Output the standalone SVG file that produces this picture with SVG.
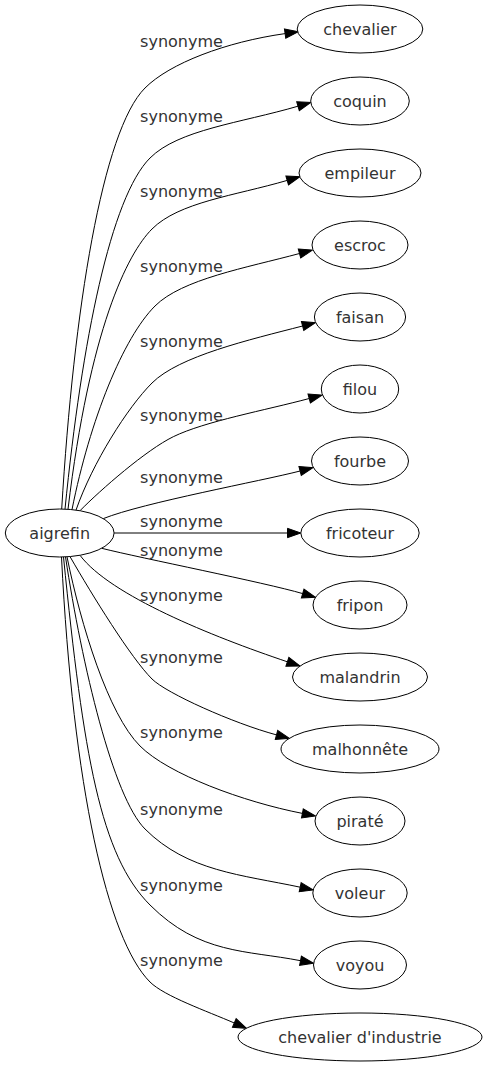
<svg xmlns="http://www.w3.org/2000/svg" width="487" height="1067" viewBox="0 0 487 1067">
<style>
.n ellipse{fill:#fff;stroke:#000;stroke-width:1}
.n text{font-family:"DejaVu Sans",sans-serif;font-size:16px;fill:#333;text-anchor:middle}
.e path{fill:none;stroke:#000;stroke-width:1;marker-end:url(#arr)}
.e text{font-family:"DejaVu Sans",sans-serif;font-size:16px;fill:#333;text-anchor:middle}
</style>
<defs>
<marker id="arr" markerWidth="15" markerHeight="11" refX="0" refY="4.67" orient="auto" markerUnits="userSpaceOnUse" overflow="visible">
<polygon points="0,0 13.3,4.67 0,9.34" fill="#000" stroke="#000" stroke-width="1"/>
</marker>
</defs>
<rect width="487" height="1067" fill="#fff"/>
<g id="edges" class="e">
<path d="M61.7,509 C73.7,309 102.6,130.4 145,88 C169.7,63.3 225.7,42 285.1,33.6"/>
<path d="M65,509.1 C82,339 111.1,196.9 150,158 C178.3,129.7 240.4,123 298,106.2"/>
<path d="M68,509.3 C89.6,329.3 127.3,253.7 152,229 C178.9,202.1 234.4,195.8 287.2,180.4"/>
<path d="M72,509.6 C90,419.6 123.2,337.8 155,306 C181.9,279.1 246.4,267.8 299.5,253.5"/>
<path d="M76,510.1 C92.5,462.9 127.3,407.7 152,383 C178.9,356.1 249.4,339.75 302.6,326"/>
<path d="M80,510.7 C101,489.4 146.3,449.9 173.3,436.7 C204.8,421.3 265.7,410.2 309.2,398.5"/>
<path d="M103.3,518.6 C143.3,502.6 261.4,481 300.1,471"/>
<path d="M114.1,533 L287.5,533"/>
<path d="M101.7,548.3 C141.7,558.3 264.3,582.4 302.7,593.6"/>
<path d="M80,555.3 C110,595.3 211.6,636.3 287.4,661.8"/>
<path d="M70,556.6 C92.5,595.6 130.8,657.8 152,679 C166.1,693.1 233,723.2 276.5,734.9"/>
<path d="M67,556.8 C81,625.4 108.2,714.2 140,746 C168.3,774.3 243.5,801.9 302.4,813.4"/>
<path d="M65.5,556.9 C82,665.8 113.2,797.2 145,829 C187.4,871.4 241.5,874.7 300.2,887.2"/>
<path d="M63.5,557 C83.5,756 100.5,855.5 150,905 C199.5,954.5 246.5,950.1 300.5,960.7"/>
<path d="M61.5,557 C73,787 107.6,939.6 150,982 C164.1,996.1 206.8,1011.1 234.3,1023"/>
<text x="181.5" y="47">synonyme</text>
<text x="181.5" y="121.5">synonyme</text>
<text x="181.5" y="196.5">synonyme</text>
<text x="181.5" y="271.5">synonyme</text>
<text x="181.5" y="347">synonyme</text>
<text x="181.5" y="421">synonyme</text>
<text x="181.5" y="483">synonyme</text>
<text x="181.5" y="527">synonyme</text>
<text x="181.5" y="556">synonyme</text>
<text x="181.5" y="601">synonyme</text>
<text x="181.5" y="663">synonyme</text>
<text x="181.5" y="738">synonyme</text>
<text x="181.5" y="814.5">synonyme</text>
<text x="181.5" y="890.5">synonyme</text>
<text x="181.5" y="965.5">synonyme</text>
</g>
<g id="n0" class="n"><ellipse cx="59.7" cy="533" rx="54.4" ry="24"/><text x="59.7" y="538.6">aigrefin</text></g>
<g id="n1" class="n"><ellipse cx="360" cy="29" rx="62.8" ry="24"/><text x="360" y="34.6">chevalier</text></g>
<g id="n2" class="n"><ellipse cx="360" cy="101" rx="49.3" ry="24"/><text x="360" y="106.6">coquin</text></g>
<g id="n3" class="n"><ellipse cx="360" cy="173" rx="61" ry="24"/><text x="360" y="178.6">empileur</text></g>
<g id="n4" class="n"><ellipse cx="360" cy="245" rx="48" ry="24"/><text x="360" y="250.6">escroc</text></g>
<g id="n5" class="n"><ellipse cx="360" cy="317" rx="45.6" ry="24"/><text x="360" y="322.6">faisan</text></g>
<g id="n6" class="n"><ellipse cx="360" cy="389" rx="38.7" ry="24"/><text x="360" y="394.6">filou</text></g>
<g id="n7" class="n"><ellipse cx="360" cy="461" rx="48.5" ry="24"/><text x="360" y="466.6">fourbe</text></g>
<g id="n8" class="n"><ellipse cx="360" cy="533" rx="59.2" ry="24"/><text x="360" y="538.6">fricoteur</text></g>
<g id="n9" class="n"><ellipse cx="360" cy="605" rx="47" ry="24"/><text x="360" y="610.6">fripon</text></g>
<g id="n10" class="n"><ellipse cx="360" cy="677" rx="67.5" ry="24"/><text x="360" y="682.6">malandrin</text></g>
<g id="n11" class="n"><ellipse cx="360" cy="749" rx="79" ry="24"/><text x="360" y="754.6">malhonnête</text></g>
<g id="n12" class="n"><ellipse cx="360" cy="821" rx="45" ry="24"/><text x="360" y="826.6">piraté</text></g>
<g id="n13" class="n"><ellipse cx="360" cy="893" rx="47.2" ry="24"/><text x="360" y="898.6">voleur</text></g>
<g id="n14" class="n"><ellipse cx="360" cy="965" rx="46.5" ry="24"/><text x="360" y="970.6">voyou</text></g>
<g id="n15" class="n"><ellipse cx="360" cy="1037" rx="122" ry="24"/><text x="360" y="1042.6">chevalier d'industrie</text></g>
</svg>
